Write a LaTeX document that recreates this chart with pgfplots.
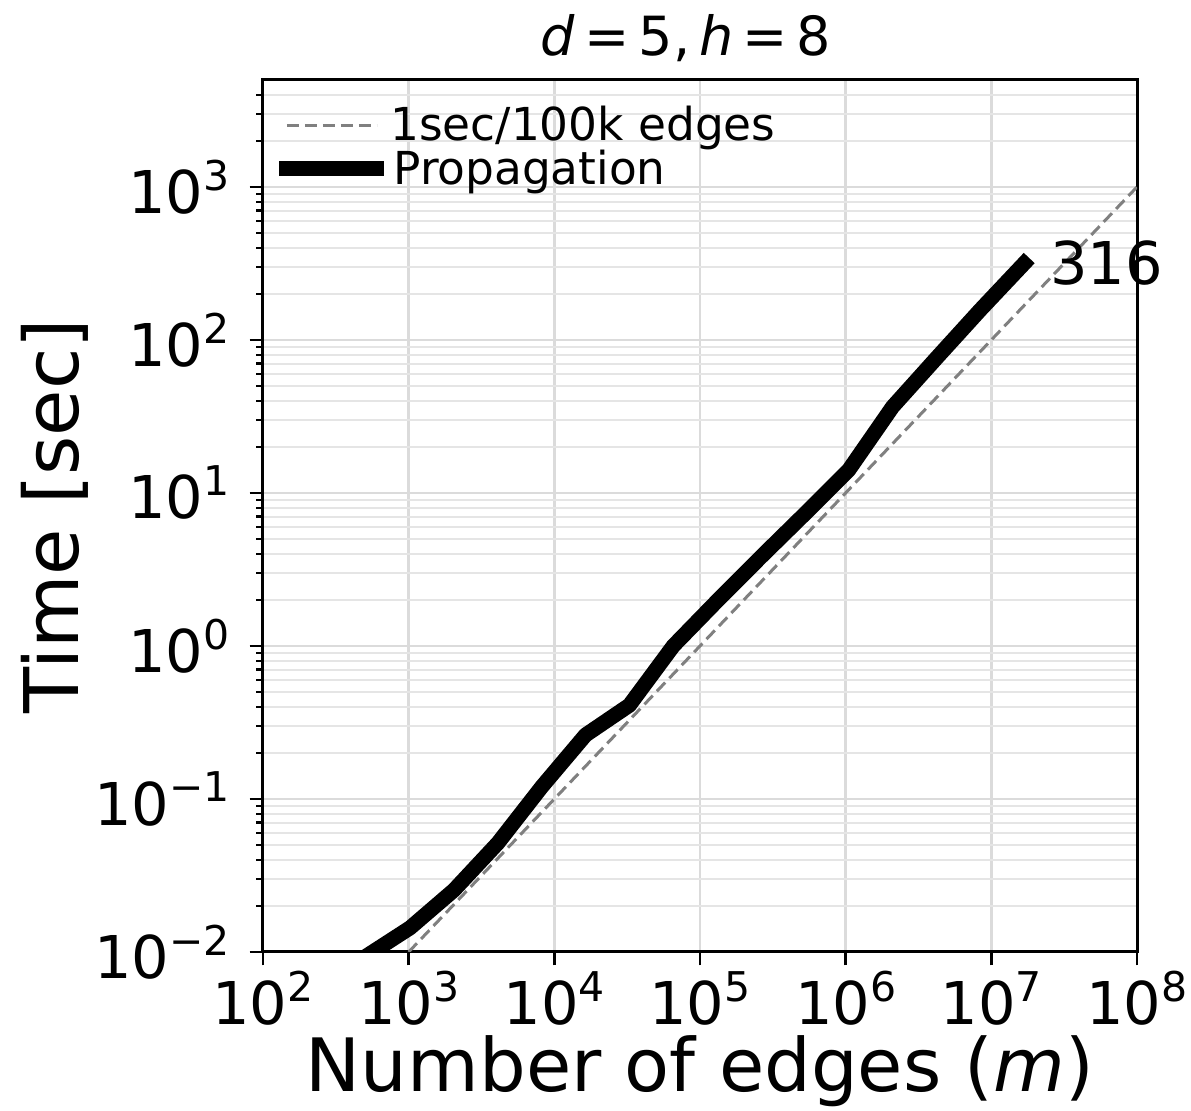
\documentclass[border=0pt]{standalone}
\usepackage{fontspec}
\setmainfont{DejaVu Sans}
\usepackage{pgfplots}
\usepackage{pgfplotstable}
\pgfplotsset{compat=1.18}
\newcommand{\tl}[1]{10\raisebox{0.39em}{\fontsize{20.5}{20.5}\selectfont #1}}
\pgfplotstableread{
x y
512 0.0094
1024 0.0144
2048 0.0254
4096 0.0515
8192 0.12
16384 0.262
32768 0.41
65536 1.0
131072 1.97
262144 3.82
524288 7.3
1048576 14.1
2097152 36.5
4194304 76
8388608 157
16777216 316
}\prop
\begin{document}
\begin{tikzpicture}
\begin{axis}[
  name=ax, at={(0,0)}, anchor=south west,
  scale only axis, width=437pt, height=436pt,
  clip mode=individual,
  xmode=log, ymode=log,
  xmin=1e2, xmax=1e8, ymin=1e-2, ymax=5000,
  xtick={1e2,1e3,1e4,1e5,1e6,1e7,1e8},
  xticklabels={\tl{2},\tl{3},\tl{4},\tl{5},\tl{6},\tl{7},\tl{8}},
  ytick={1e-2,1e-1,1,1e1,1e2,1e3},
  yticklabels={\tl{−2},\tl{−1},\tl{0},\tl{1},\tl{2},\tl{3}},
  minor ytick={2e-2,3e-2,4e-2,5e-2,6e-2,7e-2,8e-2,9e-2,
    2e-1,3e-1,4e-1,5e-1,6e-1,7e-1,8e-1,9e-1,
    2,3,4,5,6,7,8,9,20,30,40,50,60,70,80,90,
    200,300,400,500,600,700,800,900,2000,3000,4000},
  xminorticks=false,
  tick align=outside, xtick pos=bottom, ytick pos=left,
  major tick length=6.7pt, minor tick length=3.3pt,
  every tick/.style={black, line width=1.2pt},
  axis line style={black, line width=1.5pt},
  xmajorgrids, ymajorgrids, yminorgrids,
  major grid style={draw=black!14, line width=1.2pt},
  minor grid style={draw=black!10, line width=0.9pt},
  tick label style={font=\fontsize{29.5}{30}\selectfont, inner sep=0pt},
  xticklabel style={anchor=base, yshift=-29.8pt},
  yticklabel style={anchor=east, xshift=-9.8pt},
  xlabel={Number of edges (\textit{m})},
  ylabel={Time [sec]},
  xlabel style={font=\fontsize{36.8}{40}\selectfont, at={(axis description cs:0.5,0)}, anchor=base, yshift=-70pt, inner sep=0pt},
  ylabel style={font=\fontsize{37.7}{40}\selectfont, at={(axis description cs:0,0.5)}, anchor=center, yshift=104pt, inner sep=0pt},
  title={\textit{d}\,=\,5,\,\textit{h}\,=\,8},
  title style={font=\fontsize{27}{30}\selectfont, at={(axis description cs:0.5,1)}, anchor=base, yshift=6pt, xshift=-7pt, inner sep=0pt},
  legend image code/.code={\draw[#1] (0pt,0pt) -- (45pt,0pt);},
  legend style={at={(axis description cs:0,1)}, anchor=north west, xshift=8pt, yshift=-11.5pt,
    draw=none, fill=none, inner sep=0pt, row sep=0pt,
    font=\fontsize{22.7}{26}\selectfont, nodes={inner sep=1.5pt}},
  legend cell align=left,
]
\addplot[gray, line width=1.5pt, dash pattern=on 6pt off 3pt] coordinates {(1e3,0.01) (1e8,1000)};
\addlegendentry{\hspace{1.5pt}1sec/100k edges}
\addplot[black, line width=7.5pt, line cap=rect, line join=round] table[x=x,y=y] {\prop};
\addlegendentry{\hspace{3pt}Propagation}
\node[anchor=west, inner sep=0pt, xshift=13pt, font=\fontsize{29.5}{30}\selectfont] at (axis cs:16777216,316) {316};
\end{axis}
\pgfresetboundingbox
\path ([shift={(-131.5pt,-79.5pt)}]ax.south west) rectangle ([shift={(464pt,476pt)}]ax.south west);
\end{tikzpicture}
\end{document}
